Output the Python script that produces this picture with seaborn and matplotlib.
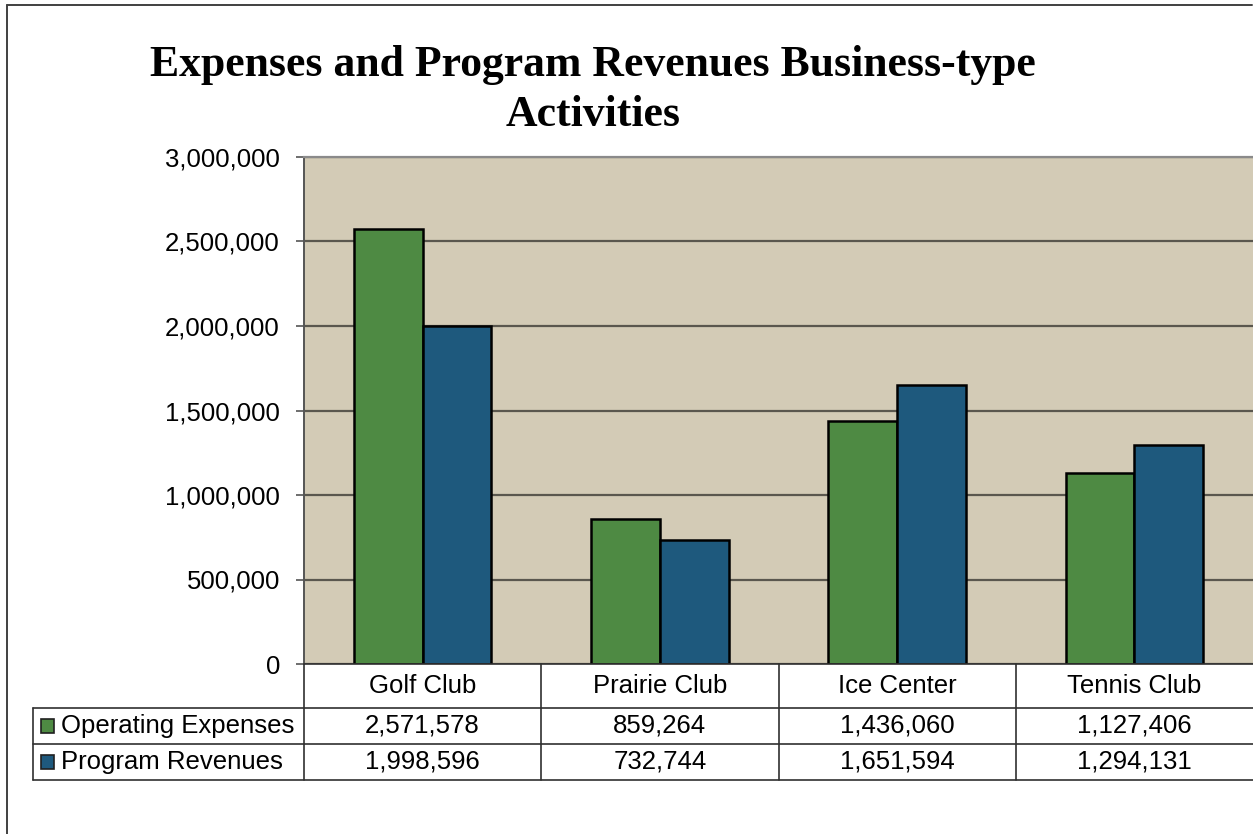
import matplotlib
matplotlib.use("Agg")
import matplotlib.pyplot as plt
import matplotlib.transforms as mtransforms
from matplotlib.patches import Rectangle
from matplotlib.lines import Line2D
from matplotlib.ticker import FuncFormatter, MultipleLocator
import pandas as pd
import seaborn as sns

# Data
categories = ["Golf Club", "Prairie Club", "Ice Center", "Tennis Club"]
operating_expenses = [2571578, 859264, 1436060, 1127406]
program_revenues = [1998596, 732744, 1651594, 1294131]
series_names = ["Operating Expenses", "Program Revenues"]
title = "Expenses and Program Revenues Business-type\nActivities"

colors = {"Operating Expenses": "#4E8A43", "Program Revenues": "#1E597D"}
plot_bg = "#D3CBB6"

df = pd.DataFrame({
    "Activity": categories * 2,
    "Series": [series_names[0]] * len(categories) + [series_names[1]] * len(categories),
    "Amount": operating_expenses + program_revenues,
})

sns.set_theme(style="white")
plt.rcParams["font.family"] = ["Liberation Sans", "DejaVu Sans"]

W, H = 1253, 834
fig = plt.figure(figsize=(W / 100, H / 100), dpi=100)
fig.patch.set_facecolor("white")


def fx(px):
    return px / W


def fy(py):
    return 1 - py / H


ax_left, ax_right, ax_top, ax_bottom = 304, 1253, 157, 664
ax = fig.add_axes([fx(ax_left), fy(ax_bottom), fx(ax_right) - fx(ax_left), fy(ax_top) - fy(ax_bottom)])
ax.set_facecolor(plot_bg)

sns.barplot(data=df, x="Activity", y="Amount", hue="Series", order=categories,
            hue_order=series_names, palette=colors, width=0.58, edgecolor="black",
            linewidth=1.8, ax=ax, legend=False, errorbar=None, saturation=1)

ax.set_xlim(-0.5, len(categories) - 0.5)
ax.set_ylim(0, 3000000)
ax.yaxis.set_major_locator(MultipleLocator(500000))
ax.yaxis.set_major_formatter(FuncFormatter(lambda v, p: f"{int(v):,}"))
ax.grid(axis="y", color="#5A574E", linewidth=1.6)
ax.set_axisbelow(True)
ax.set_xlabel("")
ax.set_ylabel("")
ax.set_xticks([])
ax.tick_params(axis="y", which="major", left=True, length=5.8, width=1.2, color="#555555",
               pad=11.5, labelsize=18.5, labelcolor="black")
for s in ["right", "bottom"]:
    ax.spines[s].set_visible(False)
ax.spines["top"].set_color("#8A8A8A")
ax.spines["top"].set_linewidth(1.6)
ax.spines["left"].set_color("#555555")
ax.spines["left"].set_linewidth(1.4)

# Title
fig.text(fx(593), fy(90), title, ha="center", va="center", fontsize=31.5,
         fontweight="bold", family=["Liberation Serif", "DejaVu Serif"],
         linespacing=1.3, color="black")

# Outer chart border
fig.add_artist(Line2D([fx(7), fx(7)], [fy(5), fy(900)], color="#404040", linewidth=1.4))
fig.add_artist(Line2D([fx(7), fx(1252)], [fy(5), fy(5)], color="#404040", linewidth=1.4))

# Data table below the axis
rows_y = [664, 708, 744, 780]
tbl_left = 33
line_kw = dict(color="#303030", linewidth=1.2)
for yy in rows_y[1:]:
    fig.add_artist(Line2D([fx(tbl_left), fx(1253)], [fy(yy), fy(yy)], **line_kw))
fig.add_artist(Line2D([fx(ax_left), fx(1253)], [fy(664), fy(664)], **line_kw))
fig.add_artist(Line2D([fx(tbl_left), fx(tbl_left)], [fy(708), fy(780)], **line_kw))

blend = mtransforms.blended_transform_factory(ax.transData, fig.transFigure)
for i in range(len(categories)):
    fig.add_artist(Line2D([i - 0.5, i - 0.5], [fy(664), fy(780)], transform=blend, **line_kw))

row_centers = [(rows_y[k] + rows_y[k + 1]) / 2 for k in range(3)]
for i, cat in enumerate(categories):
    fig.text(i, fy(row_centers[0]), cat, transform=blend, ha="center", va="center",
             fontsize=18.5, color="black")
    fig.text(i, fy(row_centers[1]), f"{operating_expenses[i]:,}", transform=blend,
             ha="center", va="center", fontsize=18.5, color="black")
    fig.text(i, fy(row_centers[2]), f"{program_revenues[i]:,}", transform=blend,
             ha="center", va="center", fontsize=18.5, color="black")

# Legend keys inside the table
for k, name in enumerate(series_names):
    yc = row_centers[k + 1]
    fig.add_artist(Rectangle((fx(41), fy(yc + 7)), fx(13), fy(0) - fy(14),
                             facecolor=colors[name], edgecolor="#202020", linewidth=1.2))
    fig.text(fx(61), fy(yc), name, ha="left", va="center", fontsize=18.5, color="black")

fig.savefig("out.png", dpi=100, facecolor="white")
